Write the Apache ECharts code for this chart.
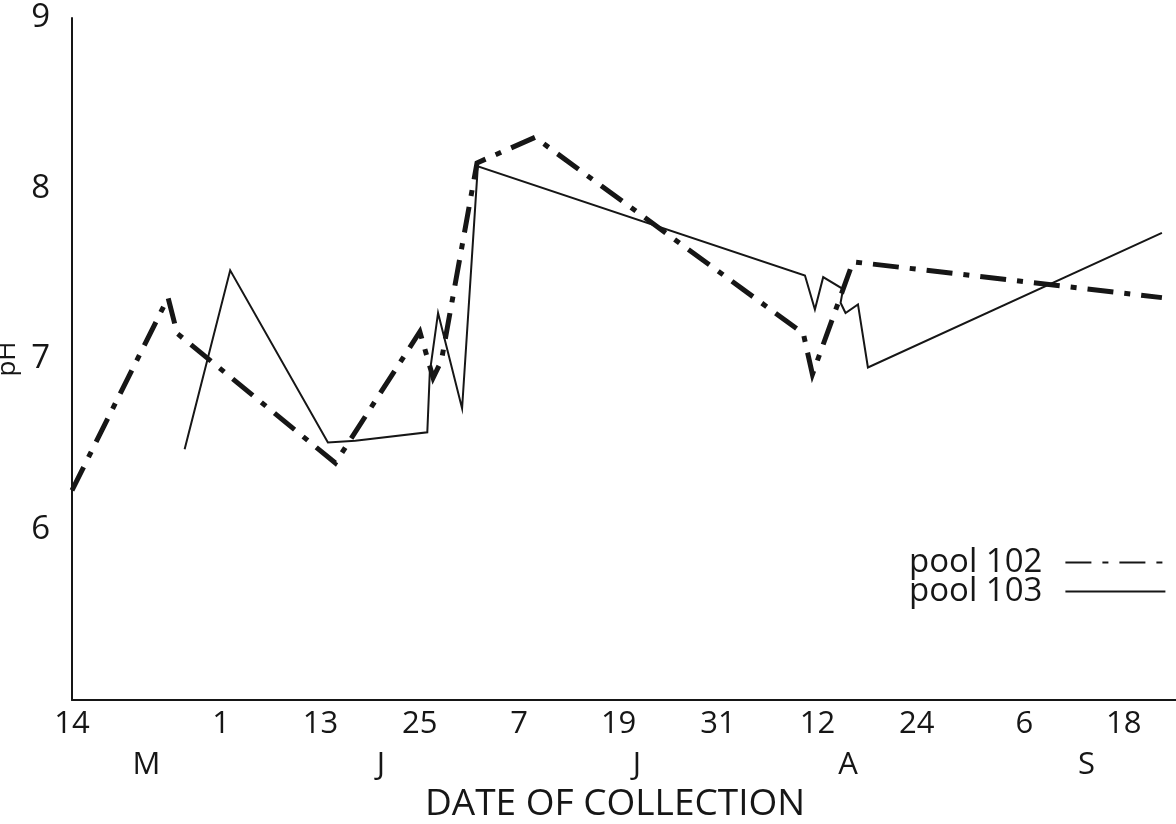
<!DOCTYPE html>
<html><head><meta charset="utf-8">
<script src="https://cdn.jsdelivr.net/npm/echarts@6/dist/echarts.min.js"></script>
<style>html,body{margin:0;padding:0;background:#fff}#c{width:1176px;height:824px}</style>
</head><body><div id="c"></div>
<script>
// x axis: days after 14 May
const dayTicks = [0, 18, 30, 42, 54, 66, 78, 90, 102, 115, 127];
const dayTickLabels = ['14', '1', '13', '25', '7', '19', '31', '12', '24', '6', '18'];
const monthPositions = [9, 37.3, 68.2, 93.7, 122.5];
const monthLabels = ['M', 'J', 'J', 'A', 'S'];
const yTicks = [6, 7, 8, 9];

const pool102Days = [0, 11.6, 12.7, 31.8, 42.0, 43.6, 44.6, 48.9, 55.9, 88.3, 89.4, 94.3, 131.6];
const pool102PH   = [6.23, 7.36, 7.15, 6.39, 7.16, 6.89, 6.99, 8.15, 8.30, 7.15, 6.91, 7.57, 7.36];

const pool103Days = [13.6, 19.1, 30.9, 34.2, 42.9, 43.2, 44.2, 47.1, 49.0, 88.5, 89.7, 90.7, 93.1, 92.8, 93.4, 94.9, 96.1, 131.6];
const pool103PH   = [6.47, 7.52, 6.51, 6.52, 6.57, 6.92, 7.27, 6.71, 8.13, 7.49, 7.29, 7.48, 7.41, 7.33, 7.27, 7.32, 6.95, 7.74];

const FONT = '"Open Sans", "DejaVu Sans", sans-serif';
const INK = '#161616';
const W = 400;

const chart = echarts.init(document.getElementById('c'), null, {renderer: 'canvas'});
chart.setOption({
  backgroundColor: '#ffffff',
  animation: false,
  textStyle: {fontFamily: FONT, color: INK},
  grid: {left: 72, right: 0, top: 18, bottom: 124, containLabel: false, outerBoundsMode: 'none'},
  legend: {
    data: ['pool 102', 'pool 103'],
    orient: 'vertical',
    left: 904, top: 541,
    align: 'right',
    itemWidth: 100, itemHeight: 14, itemGap: -4,
    itemStyle: {opacity: 0},
    formatter: name => '{t|' + name + '}',
    textStyle: {
      fontFamily: FONT, fontSize: 33, fontWeight: W, color: INK,
      rich: {t: {fontFamily: FONT, fontSize: 33, fontWeight: W, color: INK, padding: [0, 18, 0, 0]}}
    }
  },
  xAxis: [{
    type: 'value', min: 0, max: 133.3,
    axisLine: {show: true, onZero: false, lineStyle: {color: INK, width: 2}},
    axisTick: {show: false},
    splitLine: {show: false},
    axisLabel: {
      customValues: dayTicks,
      formatter: v => { const i = dayTicks.indexOf(v); return i >= 0 ? dayTickLabels[i] : ''; },
      fontSize: 31, fontWeight: W, color: INK, margin: 9, fontFamily: FONT
    }
  }, {
    type: 'value', min: 0, max: 133.3, position: 'bottom', offset: 50,
    axisLine: {show: false}, axisTick: {show: false}, splitLine: {show: false},
    axisLabel: {
      customValues: monthPositions,
      formatter: v => { const i = monthPositions.indexOf(v); return i >= 0 ? monthLabels[i] : ''; },
      fontSize: 31, fontWeight: W, color: INK, margin: 0, fontFamily: FONT
    },
    name: 'DATE OF COLLECTION', nameLocation: 'middle', nameGap: 30,
    nameTextStyle: {fontSize: 37, fontWeight: W, color: INK, fontFamily: FONT, padding: [0, 18, 0, 0]}
  }],
  yAxis: {
    type: 'value', min: 5, max: 9, interval: 1,
    axisLine: {show: true, onZero: false, lineStyle: {color: INK, width: 2}},
    axisTick: {show: false},
    splitLine: {show: false},
    axisLabel: {customValues: yTicks, fontSize: 33, fontWeight: W, color: INK, margin: 22, fontFamily: FONT},
    name: 'pH', nameLocation: 'middle', nameGap: 41, nameRotate: 90,
    nameTextStyle: {fontSize: 26, fontWeight: W, color: INK, fontFamily: FONT}
  },
  series: [{
    name: 'pool 102', type: 'line', xAxisIndex: 0,
    data: pool102Days.map((d, i) => [d, pool102PH[i]]),
    symbol: 'none', smooth: false,
    lineStyle: {color: INK, width: 5, type: [26, 11, 6, 11], cap: 'butt', join: 'miter'},
    itemStyle: {color: INK}
  }, {
    name: 'pool 103', type: 'line', xAxisIndex: 0,
    data: pool103Days.map((d, i) => [d, pool103PH[i]]),
    symbol: 'none', smooth: false,
    lineStyle: {color: INK, width: 2, type: 'solid', join: 'miter'},
    itemStyle: {color: INK}
  }]
});
</script></body></html>
